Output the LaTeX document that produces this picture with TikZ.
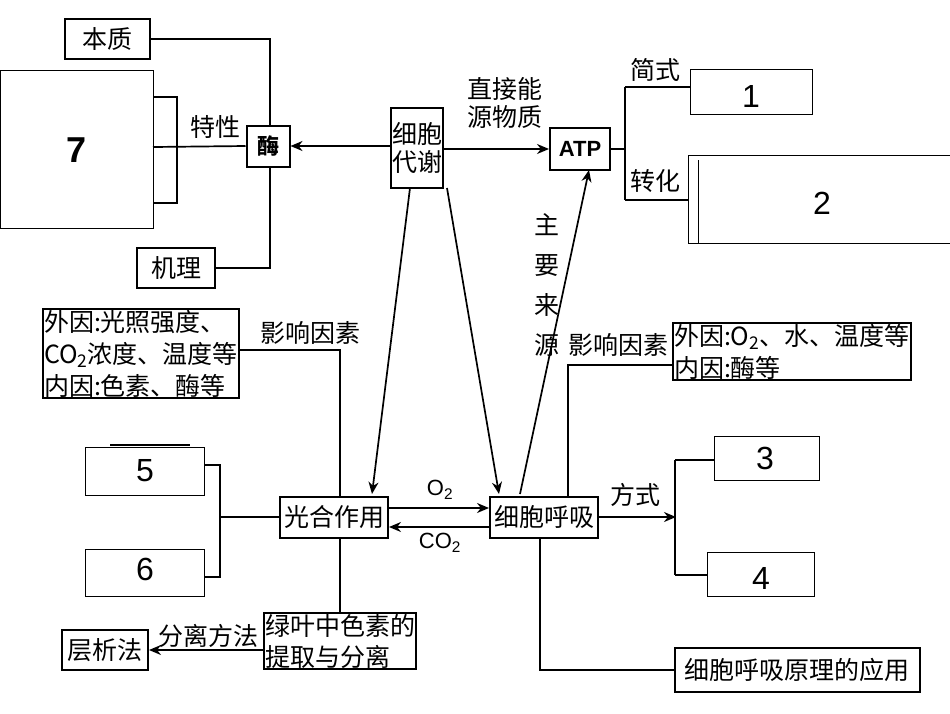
\documentclass[tikz,border=0pt]{standalone}
\usepackage{fontspec}
\setmainfont{Liberation Sans}
\newfontfamily\cjk{Noto Sans CJK SC}
\usetikzlibrary{arrows.meta}
\begin{document}
\begin{tikzpicture}[x=1pt,y=-1pt,
  bx/.style={draw,line width=2pt,inner sep=1pt,font=\cjk\fontsize{25}{28}\selectfont,align=left},
  lab/.style={font=\cjk\fontsize{25}{28}\selectfont,inner sep=1pt},
  num/.style={font=\fontsize{32}{34}\selectfont},
  ln/.style={line width=1.7pt},
  ar/.style={line width=1.7pt,-{Stealth[length=12pt,width=10pt]}}]
\useasboundingbox (0,0) rectangle (950,713);
% enzyme part
\node[bx,minimum width=85,minimum height=40] (bz) at (107,39) {本质};
\draw[thin] (0,70) rectangle (153,228);
\node[font=\bfseries\fontsize{36}{38}\selectfont] (n7) at (77,150) {7};
\draw[ln] (153,97) -- (177,97) -- (177,203) -- (153,203);
\node[bx,font=\cjk\bfseries\fontsize{22}{24}\selectfont,minimum width=43,minimum height=41] (mei) at (268,146) {酶};
\node[bx,minimum width=78,minimum height=40] (jl) at (176,268) {机理};
\draw[ln] (153,147) -- (mei.west);
\node[lab] at (215,127) {特性};
\draw[ln] (bz.east) -- (270,39) -- (270,125);
\draw[ln] (jl.east) -- (270,268) -- (270,167);
% metabolism
\node[bx,minimum width=50,minimum height=80,align=center] (dx) at (417,148) {细胞\\代谢};
\draw[ar] (dx.west|-mei) -- (mei.east);
\node[bx,font=\bfseries\fontsize{22}{24}\selectfont,minimum width=60,minimum height=42] (atp) at (580,149) {ATP};
\node[lab,align=center] at (505,103) {直接能\\源物质};
\draw[ar] (dx.east|-0,149) -- (atp.west);
\draw[ln] (atp.east) -- (625,149);
\draw[ln] (625,87) -- (625,200);
\node[draw,thick,minimum width=122,minimum height=45] (b1) at (751,92) {};
\node[num] at (751,96) {1};
\draw[ln] (625,87) -- (b1.west|-0,87);
\node[lab] at (655,70) {简式};
\node[draw,thick,minimum width=262,minimum height=88] (b2) at (819,199) {};
\draw[thin] (698,160) -- (698,243);
\node[num] at (822,203) {2};
\draw[ln] (625,200) -- (b2.west|-0,200);
\node[lab] at (655,181) {转化};
% middle
\node[bx,minimum width=108,minimum height=41] (gh) at (334,517) {光合作用};
\node[bx,minimum width=108,minimum height=41] (hx) at (544,517) {细胞呼吸};
\draw[ar] (410,188) -- (372,494);
\draw[ar] (447,188) -- (499,494);
\draw[ar] (520,494) -- (589,170);
\node[lab,align=center,font=\cjk\fontsize{25}{40}\selectfont] at (547,285) {主\\要\\来\\源};
\draw[ar] (gh.east|-0,508) -- (hx.west|-0,508);
\draw[ar] (hx.west|-0,527) -- (gh.east|-0,527);
\node[font=\fontsize{22}{24}\selectfont\rmfamily] at (440,490) {O\textsubscript{2}};
\node[font=\fontsize{22}{24}\selectfont\rmfamily] at (440,543) {CO\textsubscript{2}};
% left factors
\node[bx,anchor=north west,font=\cjk\fontsize{25}{32}\selectfont] (yl) at (42,308) {外因:光照强度、\\CO\textsubscript{2}浓度、温度等\\内因:色素、酶等};
\node[lab] at (310,333) {影响因素};
\draw[ln] (yl.east|-0,350) -- (340,350) -- (340,497);
\draw[ln] (340,538) -- (340,612);
\node[draw,thin,minimum width=119,minimum height=48] (b5) at (145,471) {};
\draw[ln] (110,445) -- (190,445);
\node[num] at (145,471) {5};
\node[draw,thin,minimum width=119,minimum height=47] (b6) at (145,573) {};
\node[num] at (145,569) {6};
\draw[ln] (205,465) -- (220,465) -- (220,577) -- (205,577);
\draw[ln] (220,517) -- (gh.west);
% bottom left
\node[bx,anchor=north west,font=\cjk\fontsize{25}{31}\selectfont] (lv) at (263,612) {绿叶中色素的\\提取与分离};
\node[bx,minimum width=86,minimum height=40] (cx) at (105,650) {层析法};
\draw[ar] (lv.west|-0,650) -- (cx.east);
\node[lab] at (208,636) {分离方法};
% right factors
\node[bx,anchor=north west,font=\cjk\fontsize{25}{32}\selectfont] (yr) at (672,322) {外因:O\textsubscript{2}、水、温度等\\内因:酶等};
\node[lab] at (618,345) {影响因素};
\draw[ln] (yr.west|-0,365) -- (568,365) -- (568,497);
\draw[ar] (hx.east) -- (676,517);
\node[lab] at (635,495) {方式};
\draw[ln] (675,460) -- (675,575);
\node[draw,thick,minimum width=105,minimum height=44] (b3) at (767,458) {};
\node[num] at (765,458) {3};
\node[draw,thin,minimum width=107,minimum height=44] (b4) at (761,574) {};
\node[num] at (761,578) {4};
\draw[ln] (675,460) -- (b3.west|-0,460);
\draw[ln] (675,575) -- (b4.west|-0,575);
\node[bx,minimum width=245,minimum height=44] (yy) at (797,670) {细胞呼吸原理的应用};
\draw[ln] (540,538) -- (540,670) -- (yy.west);
\end{tikzpicture}
\end{document}
